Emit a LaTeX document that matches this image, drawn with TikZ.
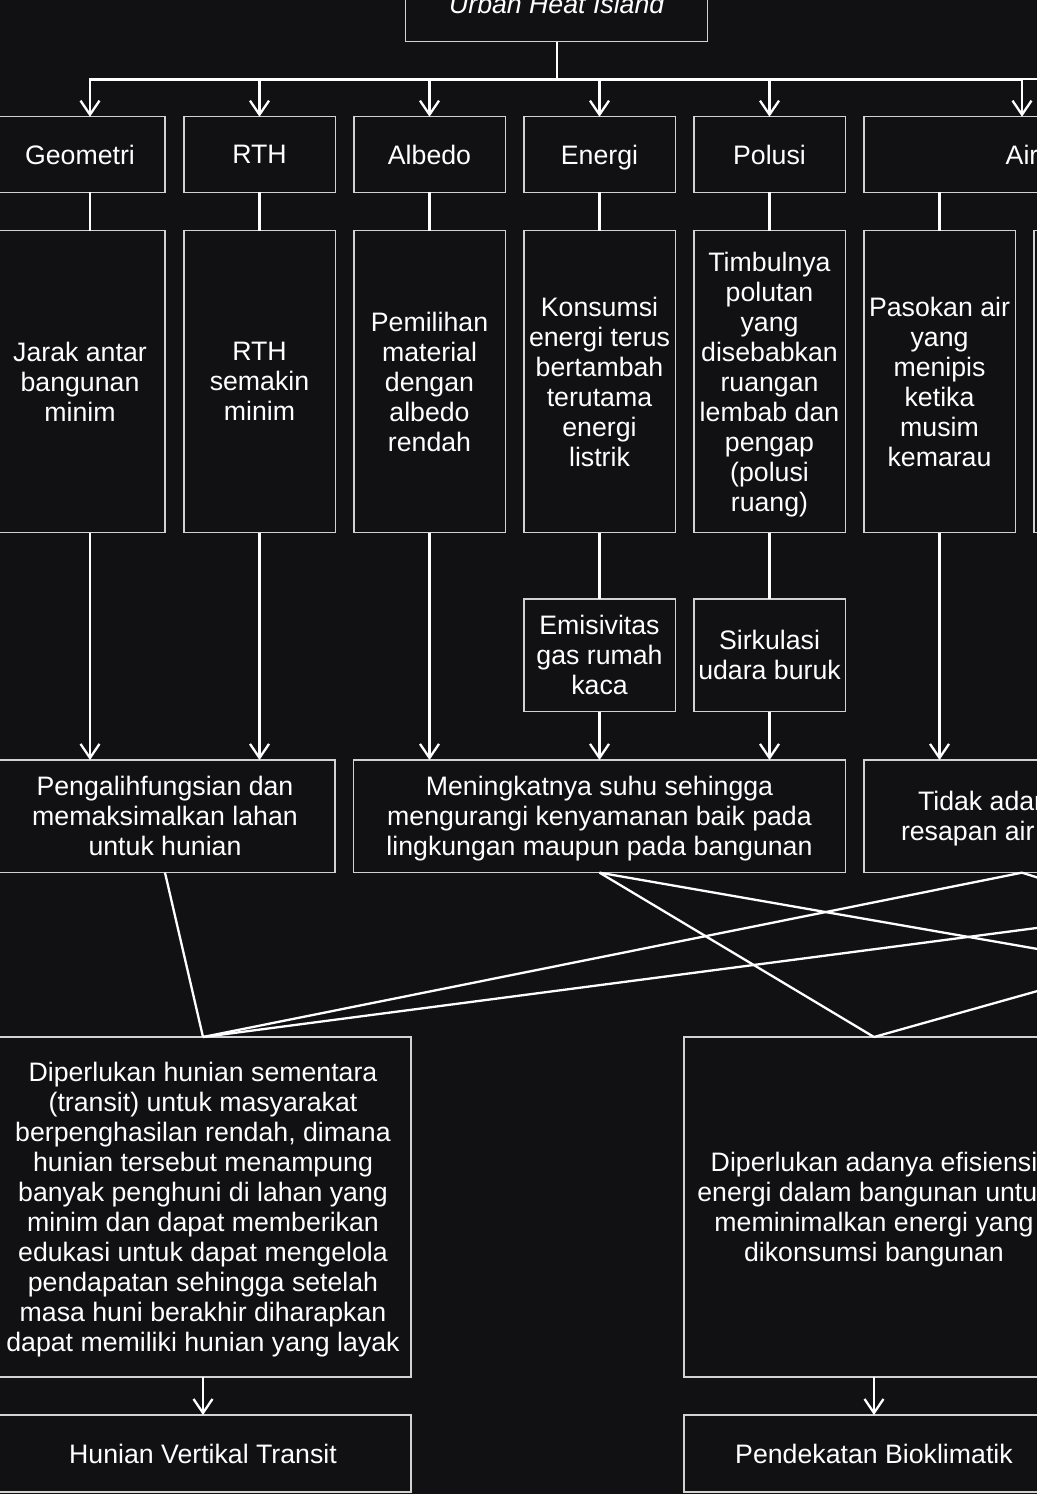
\documentclass[tikz,border=0pt]{standalone}
\usepackage{fontspec}
\setmainfont{Liberation Sans}
\usetikzlibrary{arrows.meta}
\definecolor{latar}{RGB}{17,17,19}
\definecolor{garis}{RGB}{210,210,210}

\begin{document}
\begin{tikzpicture}[x=0.5pt,y=-0.5pt]
        \tikzstyle{every node}+=[inner sep=0pt, outer sep=0pt, text=white, align=center, text depth=0pt, font=\fontsize{13.35}{15}\selectfont]
        \tikzstyle{kotak}=[draw=garis, line width=0.75pt, fill=latar]
        \tikzstyle{sempit}=[kotak, minimum width=75.75pt]
        \tikzstyle{hubung}=[white, line width=1.15pt]
        \tikzstyle{panah}=[hubung, -{Straight Barb[length=7pt,width=9.5pt]}]
        \useasboundingbox (0,0) rectangle (1037,1494);
        \fill [latar] (0,0) rectangle (1037,1494);
        \clip (0,0) rectangle (1037,1494);
        \node [kotak, minimum width=151pt, minimum height=37.5pt, font=\fontsize{13.35}{15}\selectfont\itshape] (uhi) at (556.7,4) {Urban Heat Island};
        \node [kotak, minimum width=85pt, minimum height=37.8pt] (geo) at (80,154.5) {Geometri};
        \node [sempit, minimum height=37.8pt] (rth) at (259.5,154.5) {RTH};
        \node [sempit, minimum height=37.8pt] (alb) at (429.5,154.5) {Albedo};
        \node [sempit, minimum height=37.8pt] (ene) at (599.5,154.5) {Energi};
        \node [sempit, minimum height=37.8pt] (pol) at (769.5,154.5) {Polusi};
        \node [kotak, minimum width=158pt, minimum height=37.8pt] (air) at (1022,154.5) {Air};
        \node [kotak, minimum width=85pt, minimum height=151pt] (jarak) at (80,381.7) {Jarak antar\\bangunan\\minim};
        \node [sempit, minimum height=151pt] (rths) at (259.5,381.7) {RTH\\semakin\\minim};
        \node [sempit, minimum height=151pt] (pilih) at (429.5,381.7) {Pemilihan\\material\\dengan\\albedo\\rendah};
        \node [sempit, minimum height=151pt] (kons) at (599.5,381.7) {Konsumsi\\energi terus\\bertambah\\terutama\\energi\\listrik};
        \node [sempit, minimum height=151pt] (timbul) at (769.5,381.7) {Timbulnya\\polutan\\yang\\disebabkan\\ruangan\\lembab dan\\pengap\\(polusi\\ruang)};
        \node [sempit, minimum height=151pt] (pasok) at (939.5,381.7) {Pasokan air\\yang\\menipis\\ketika\\musim\\kemarau};
        \node [sempit, minimum height=151pt] (kanan) at (1109.5,381.7) {};
        \node [sempit, minimum height=56.35pt] (emis) at (599.5,655.3) {Emisivitas\\gas rumah\\kaca};
        \node [sempit, minimum height=56.35pt] (sirk) at (769.5,655.3) {Sirkulasi\\udara buruk};
        \node [kotak, minimum width=170pt, minimum height=56.35pt] (alih) at (165,816.3) {Pengalihfungsian dan\\memaksimalkan lahan\\untuk hunian};
        \node [kotak, minimum width=245.8pt, minimum height=56.35pt] (naik) at (599.5,816.3) {Meningkatnya suhu sehingga\\mengurangi kenyamanan baik pada\\lingkungan maupun pada bangunan};
        \node [kotak, minimum width=158pt, minimum height=56.35pt] (tidak) at (1022,816.3) {};
        \node [anchor=west, align=left] (tidakisi) at (901,816.3) {\hspace*{8.5pt}Tidak adanya\\resapan air};
        \node [kotak, minimum width=208pt, minimum height=170pt] (hunian) at (203,1207) {Diperlukan hunian sementara\\(transit) untuk masyarakat\\berpenghasilan rendah, dimana\\hunian tersebut menampung\\banyak penghuni di lahan yang\\minim dan dapat memberikan\\edukasi untuk dapat mengelola\\pendapatan sehingga setelah\\masa huni berakhir diharapkan\\dapat memiliki hunian yang layak};
        \node [kotak, minimum width=190pt, minimum height=170pt] (efis) at (874,1207) {Diperlukan adanya efisiensi\\energi dalam bangunan untuk\\meminimalkan energi yang\\dikonsumsi bangunan};
        \node [kotak, minimum width=208pt, minimum height=38.5pt] (hvt) at (203,1453.5) {Hunian Vertikal Transit};
        \node [kotak, minimum width=190pt, minimum height=38.5pt] (bio) at (874,1453.5) {Pendekatan Bioklimatik};
        \coordinate (ujung) at (1200,79);
        \coordinate (luar4) at (1457,873);
        \coordinate (luar5) at (1543,1037);
        \draw [hubung] (uhi.south) |- (ujung);
        \draw [panah] (uhi.south) -- ++(0,38) -| ([xshift=5pt]geo.north);
        \foreach \k in {rth,alb,ene,pol,air}
            \draw [panah] (uhi.south) -- ++(0,38) -| (\k.north);
        \draw [hubung] ([xshift=5pt]geo.south) -- ([xshift=5pt]jarak.north);
        \draw [hubung] (rth) -- (rths);
        \draw [hubung] (alb) -- (pilih);
        \draw [hubung] (ene) -- (kons);
        \draw [hubung] (pol) -- (timbul);
        \draw [hubung] (air.south -| pasok) -- (pasok);
        \draw [hubung] (kons) -- (emis);
        \draw [hubung] (timbul) -- (sirk);
        \draw [panah] ([xshift=5pt]jarak.south) -- ([xshift=5pt]jarak.south |- alih.north);
        \draw [panah] (rths) -- (rths |- alih.north);
        \draw [panah] (pilih) -- (pilih |- naik.north);
        \draw [panah] (emis) -- (emis |- naik.north);
        \draw [panah] (sirk) -- (sirk |- naik.north);
        \draw [panah] (pasok) -- (pasok |- tidak.north);
        \draw [hubung] (alih.south) -- (hunian.north);
        \draw [hubung] (naik.south) -- (efis.north);
        \draw [hubung] (naik.south) -- (luar5);
        \draw [hubung] (tidak.south) -- (hunian.north);
        \draw [hubung] (tidak.south) -- (luar5);
        \draw [hubung] (luar4) -- (hunian.north);
        \draw [hubung] (luar4) -- (efis.north);
        \draw [panah] (hunian) -- (hvt);
        \draw [panah] (efis) -- (bio);
\end{tikzpicture}
\end{document}
